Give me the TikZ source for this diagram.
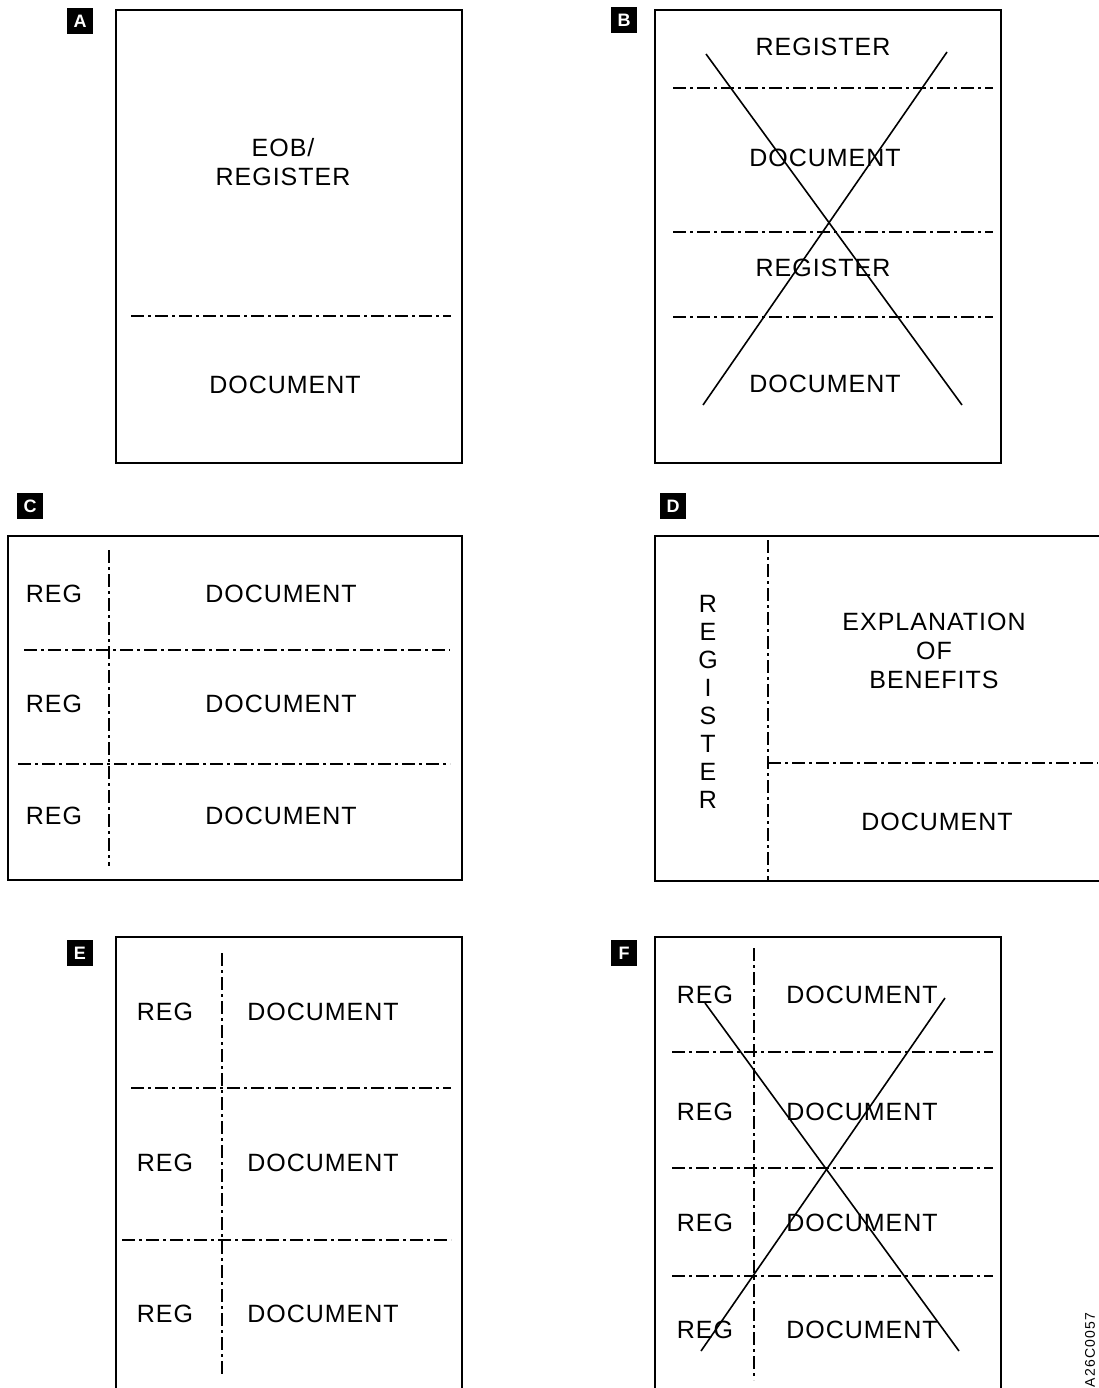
\documentclass[tikz,border=0pt]{standalone}
\usepackage{fontspec}
\setmainfont{Liberation Sans}[LetterSpace=4]
\usetikzlibrary{positioning}

\begin{document}
\begin{tikzpicture}[x=1pt,y=-1pt,
    sheet/.style={draw,line width=2.8pt},
    cutline/.style={line width=1.8pt,dash pattern=on 13pt off 4pt on 3pt off 4pt},
    crossout/.style={line width=1.6pt},
    lbl/.style={font=\fontsize{25}{29}\selectfont,inner sep=0pt,align=center},
    tag/.style={fill=black,text=white,minimum size=26pt,inner sep=0pt,font=\fontsize{18}{18}\selectfont\bfseries}]
  \useasboundingbox (0,0) rectangle (1098,1388);

  % A
  \node[tag] (tagA) at (80,21) {A};
  \draw[sheet] (116,10) rectangle (462,463);
  \node[lbl] (eobA) at (283,162) {EOB/\\REGISTER};
  \coordinate (cutA1) at (131,316);
  \coordinate (cutA2) at (451,316);
  \draw[cutline] (cutA1) -- (cutA2);
  \node[lbl] (docA) at (285,385) {DOCUMENT};

  % B
  \node[tag] (tagB) at (624,20) {B};
  \draw[sheet] (655,10) rectangle (1001,463);
  \node[lbl] (regB1) at (823,47) {REGISTER};
  \node[lbl] (docB1) at (825,158) {DOCUMENT};
  \node[lbl] (regB2) at (823,268) {REGISTER};
  \node[lbl] (docB2) at (825,384) {DOCUMENT};
  \foreach \y in {88,232,317}
    \draw[cutline] (673,\y) -- (993,\y);
  \coordinate (xB1) at (706,54);
  \coordinate (xB2) at (962,405);
  \coordinate (xB3) at (947,52);
  \coordinate (xB4) at (703,405);
  \draw[crossout] (xB1) -- (xB2);
  \draw[crossout] (xB3) -- (xB4);

  % C
  \node[tag] (tagC) at (30,506) {C};
  \draw[sheet] (8,536) rectangle (462,880);
  \draw[cutline] (109,550) -- (109,866);
  \draw[cutline] (24,650) -- (450,650);
  \draw[cutline] (18,764) -- (450,764);
  \foreach \y [count=\i] in {594,704,816} {
    \node[lbl] (regC\i) at (54,\y) {REG};
    \node[lbl] (docC\i) at (281,\y) {DOCUMENT};
  }

  % D
  \node[tag] (tagD) at (673,506) {D};
  \draw[sheet] (655,536) rectangle (1120,881);
  \draw[cutline] (768,540) -- (768,881);
  \draw[cutline] (768,763) -- (1098,763);
  \node[lbl,font=\fontsize{25}{27.9}\selectfont] (regD) at (708,702) {R\\E\\G\\I\\S\\T\\E\\R};
  \node[lbl] (eobD) at (934,651) {EXPLANATION\\OF\\BENEFITS};
  \node[lbl] (docD) at (937,822) {DOCUMENT};

  % E
  \node[tag] (tagE) at (80,953) {E};
  \draw[sheet] (116,937) rectangle (462,1410);
  \draw[cutline] (222,953) -- (222,1375);
  \draw[cutline] (131,1088) -- (451,1088);
  \draw[cutline] (122,1240) -- (451,1240);
  \foreach \y [count=\i] in {1012,1163,1314} {
    \node[lbl] (regE\i) at (165,\y) {REG};
    \node[lbl] (docE\i) at (323,\y) {DOCUMENT};
  }

  % F
  \node[tag] (tagF) at (624,953) {F};
  \draw[sheet] (655,937) rectangle (1001,1410);
  \draw[cutline] (754,948) -- (754,1380);
  \foreach \y in {1052,1168,1276}
    \draw[cutline] (672,\y) -- (993,\y);
  \foreach \y [count=\i] in {995,1112,1223,1330} {
    \node[lbl] (regF\i) at (705,\y) {REG};
    \node[lbl] (docF\i) at (862,\y) {DOCUMENT};
  }
  \coordinate (xF1) at (705,1003);
  \coordinate (xF2) at (959,1351);
  \coordinate (xF3) at (945,998);
  \coordinate (xF4) at (701,1351);
  \draw[crossout] (xF1) -- (xF2);
  \draw[crossout] (xF3) -- (xF4);

  \node[font=\fontsize{14}{14}\selectfont\addfontfeatures{LetterSpace=8},rotate=90,inner sep=0pt] (figno) at (1090,1350) {A26C0057};
\end{tikzpicture}
\end{document}
